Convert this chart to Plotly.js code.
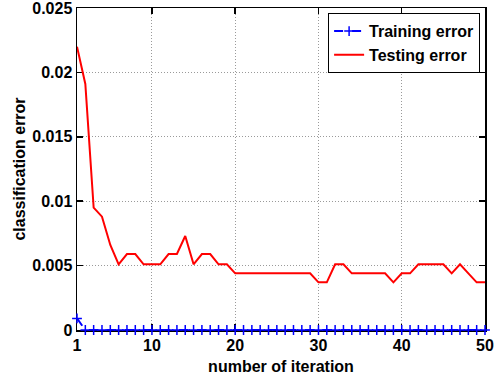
<!DOCTYPE html>
<html>
<head>
<meta charset="utf-8">
<script src="https://cdn.plot.ly/plotly-3.0.1.min.js"></script>
<style>html,body{margin:0;padding:0;background:#fff;}#chart{width:496px;height:381px;}</style>
</head>
<body>
<div id="chart"></div>
<script>
const iterations = [1,2,3,4,5,6,7,8,9,10,11,12,13,14,15,16,17,18,19,20,21,22,23,24,25,26,27,28,29,30,31,32,33,34,35,36,37,38,39,40,41,42,43,44,45,46,47,48,49,50];
const trainingError = [0.0009,0,0,0,0,0,0,0,0,0,0,0,0,0,0,0,0,0,0,0,0,0,0,0,0,0,0,0,0,0,0,0,0,0,0,0,0,0,0,0,0,0,0,0,0,0,0,0,0,0];
const testingError = [0.0220,0.0191,0.0095,0.0088,0.0066,0.0051,0.0059,0.0059,0.0051,0.0051,
  0.0051,0.0059,0.0059,0.0073,0.0051,0.0059,0.0059,0.0051,0.0051,0.0044,
  0.0044,0.0044,0.0044,0.0044,0.0044,0.0044,0.0044,0.0044,0.0044,0.0037,
  0.0037,0.0051,0.0051,0.0044,0.0044,0.0044,0.0044,0.0044,0.0037,0.0044,
  0.0044,0.0051,0.0051,0.0051,0.0051,0.0044,0.0051,0.0044,0.0037,0.0037];
const xTicks = [1,10,20,30,40,50];
const yTicks = [0,0.005,0.01,0.015,0.02,0.025];
const yTickLabels = ["0","0.005","0.01","0.015","0.02","0.025"];

const fontFam = '"Liberation Sans", Arial, Helvetica, sans-serif';
const traces = [
  {x: iterations, y: trainingError, name: 'Training error', type: 'scatter', mode: 'lines+markers',
   cliponaxis: false,
   line: {color: '#0000ff', width: 2, dash: 'dash'},
   marker: {symbol: 'cross-thin', size: 7, line: {color: '#0000ff', width: 1.5}}},
  {x: iterations, y: testingError, name: 'Testing error', type: 'scatter', mode: 'lines',
   line: {color: '#ff0000', width: 2}}
];
const axisCommon = {
  showline: true, linecolor: '#000', linewidth: 1.5, mirror: 'allticks',
  ticks: 'inside', ticklen: 6, tickwidth: 1.5, tickcolor: '#000',
  showgrid: true, gridcolor: '#9a9a9a', griddash: '1px,2px', gridwidth: 1,
  zeroline: false, layer: 'below traces', ticklabeloverflow: 'allow',
  tickfont: {family: fontFam, size: 16, color: '#000', weight: 'bold'}
};
const layout = {
  width: 496, height: 381,
  margin: {l: 77, r: 11, t: 8, b: 51},
  paper_bgcolor: '#fff', plot_bgcolor: '#fff',
  font: {family: fontFam, size: 16, color: '#000', weight: 'bold'},
  showlegend: true,
  legend: {x: 0.988, y: 0.984, xanchor: 'right', yanchor: 'top',
    bgcolor: '#fff', bordercolor: '#000', borderwidth: 1,
    font: {family: fontFam, size: 16, color: '#000', weight: 'bold'},
    tracegroupgap: 0},
  xaxis: Object.assign({}, axisCommon, {
    range: [1, 50], tickmode: 'array', tickvals: xTicks, ticktext: xTicks.map(String),
    title: {text: 'number of iteration', font: {family: fontFam, size: 16, color: '#000', weight: 'bold'}, standoff: 8}
  }),
  yaxis: Object.assign({}, axisCommon, {
    range: [0, 0.025], tickmode: 'array', tickvals: yTicks, ticktext: yTickLabels,
    title: {text: 'classification error', font: {family: fontFam, size: 16, color: '#000', weight: 'bold'}, standoff: 2}
  })
};
Plotly.newPlot('chart', traces, layout, {staticPlot: true, displayModeBar: false});
</script>
</body>
</html>
